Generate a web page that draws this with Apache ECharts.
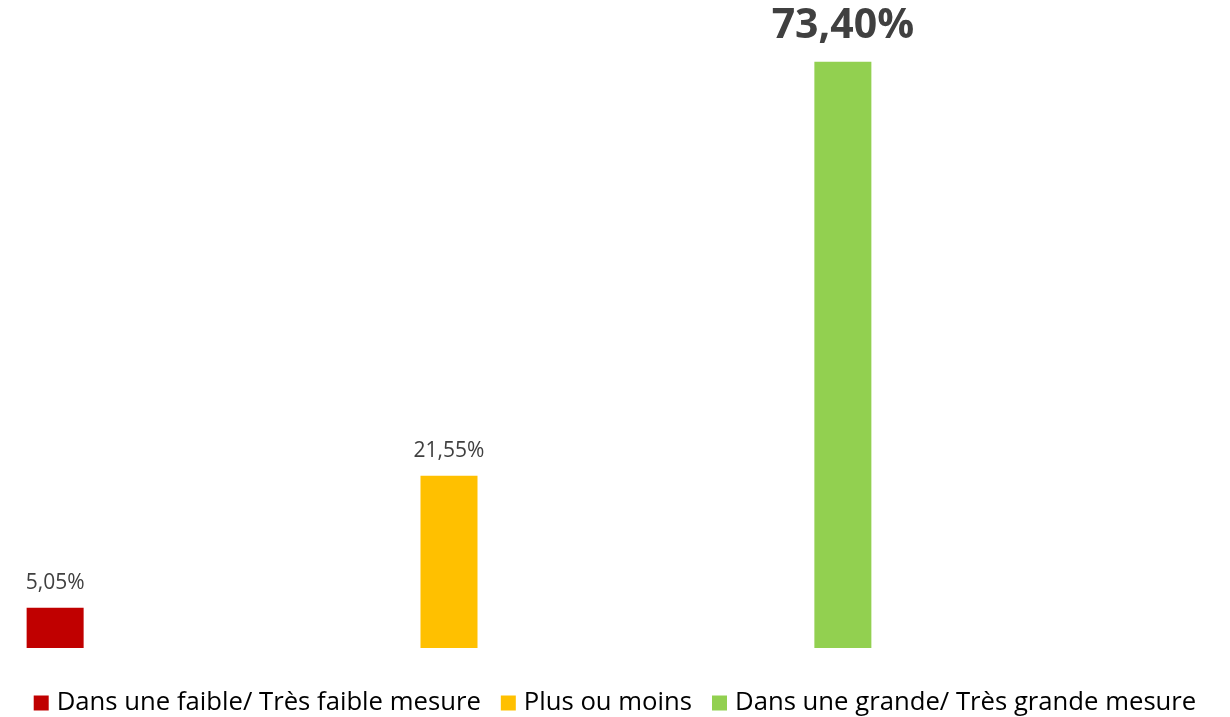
<!DOCTYPE html>
<html>
<head>
<meta charset="utf-8">
<script src="https://cdn.jsdelivr.net/npm/echarts@6/dist/echarts.min.js"></script>
<style>
  html, body { margin: 0; padding: 0; background: #fff; }
  #chart { width: 1230px; height: 717px; }
</style>
</head>
<body>
<div id="chart"></div>
<script>
// answer categories and their shares (%)
const categories = ['Dans une faible/ Très faible mesure', 'Plus ou moins', 'Dans une grande/ Très grande mesure'];
const values = [5.05, 21.55, 73.40];
const barColors = ['#C00000', '#FFC000', '#92D050'];

const maxValue = Math.max.apply(null, values);

function fmt(v) {
    return v.toFixed(2).replace('.', ',') + '%';
}

let series = [];
for (let i = 0; i < categories.length; i++) {
    let big = values[i] === maxValue;
    series.push({
        name: categories[i],
        type: 'bar',
        data: [values[i]],
        barWidth: 57,
        barGap: '591%',
        itemStyle: { color: barColors[i] },
        label: {
            show: true,
            position: 'top',
            distance: big ? 15 : 14,
            color: '#404040',
            fontFamily: 'Open Sans',
            fontSize: big ? 41 : 21,
            fontWeight: big ? 'bold' : 'normal',
            formatter: function (p) { return fmt(p.value); }
        }
    });
}

var chart = echarts.init(document.getElementById('chart'));
chart.setOption({
    animation: false,
    backgroundColor: '#ffffff',
    legend: {
        top: 685,
        left: 'center',
        itemWidth: 15,
        itemHeight: 15,
        itemGap: 20,
        icon: 'rect',
        textStyle: { fontFamily: 'Open Sans', fontSize: 25.7, color: '#000000', padding: [0, 0, 0, 3] },
        data: categories
    },
    grid: {
        left: 0,
        right: 332,
        top: 9,
        bottom: 69
    },
    xAxis: {
        type: 'category',
        data: [''],
        axisLine: { show: false },
        axisTick: { show: false },
        axisLabel: { show: false }
    },
    yAxis: {
        type: 'value',
        min: 0,
        max: 80,
        show: false,
        splitLine: { show: false }
    },
    series: series
});
</script>
</body>
</html>
